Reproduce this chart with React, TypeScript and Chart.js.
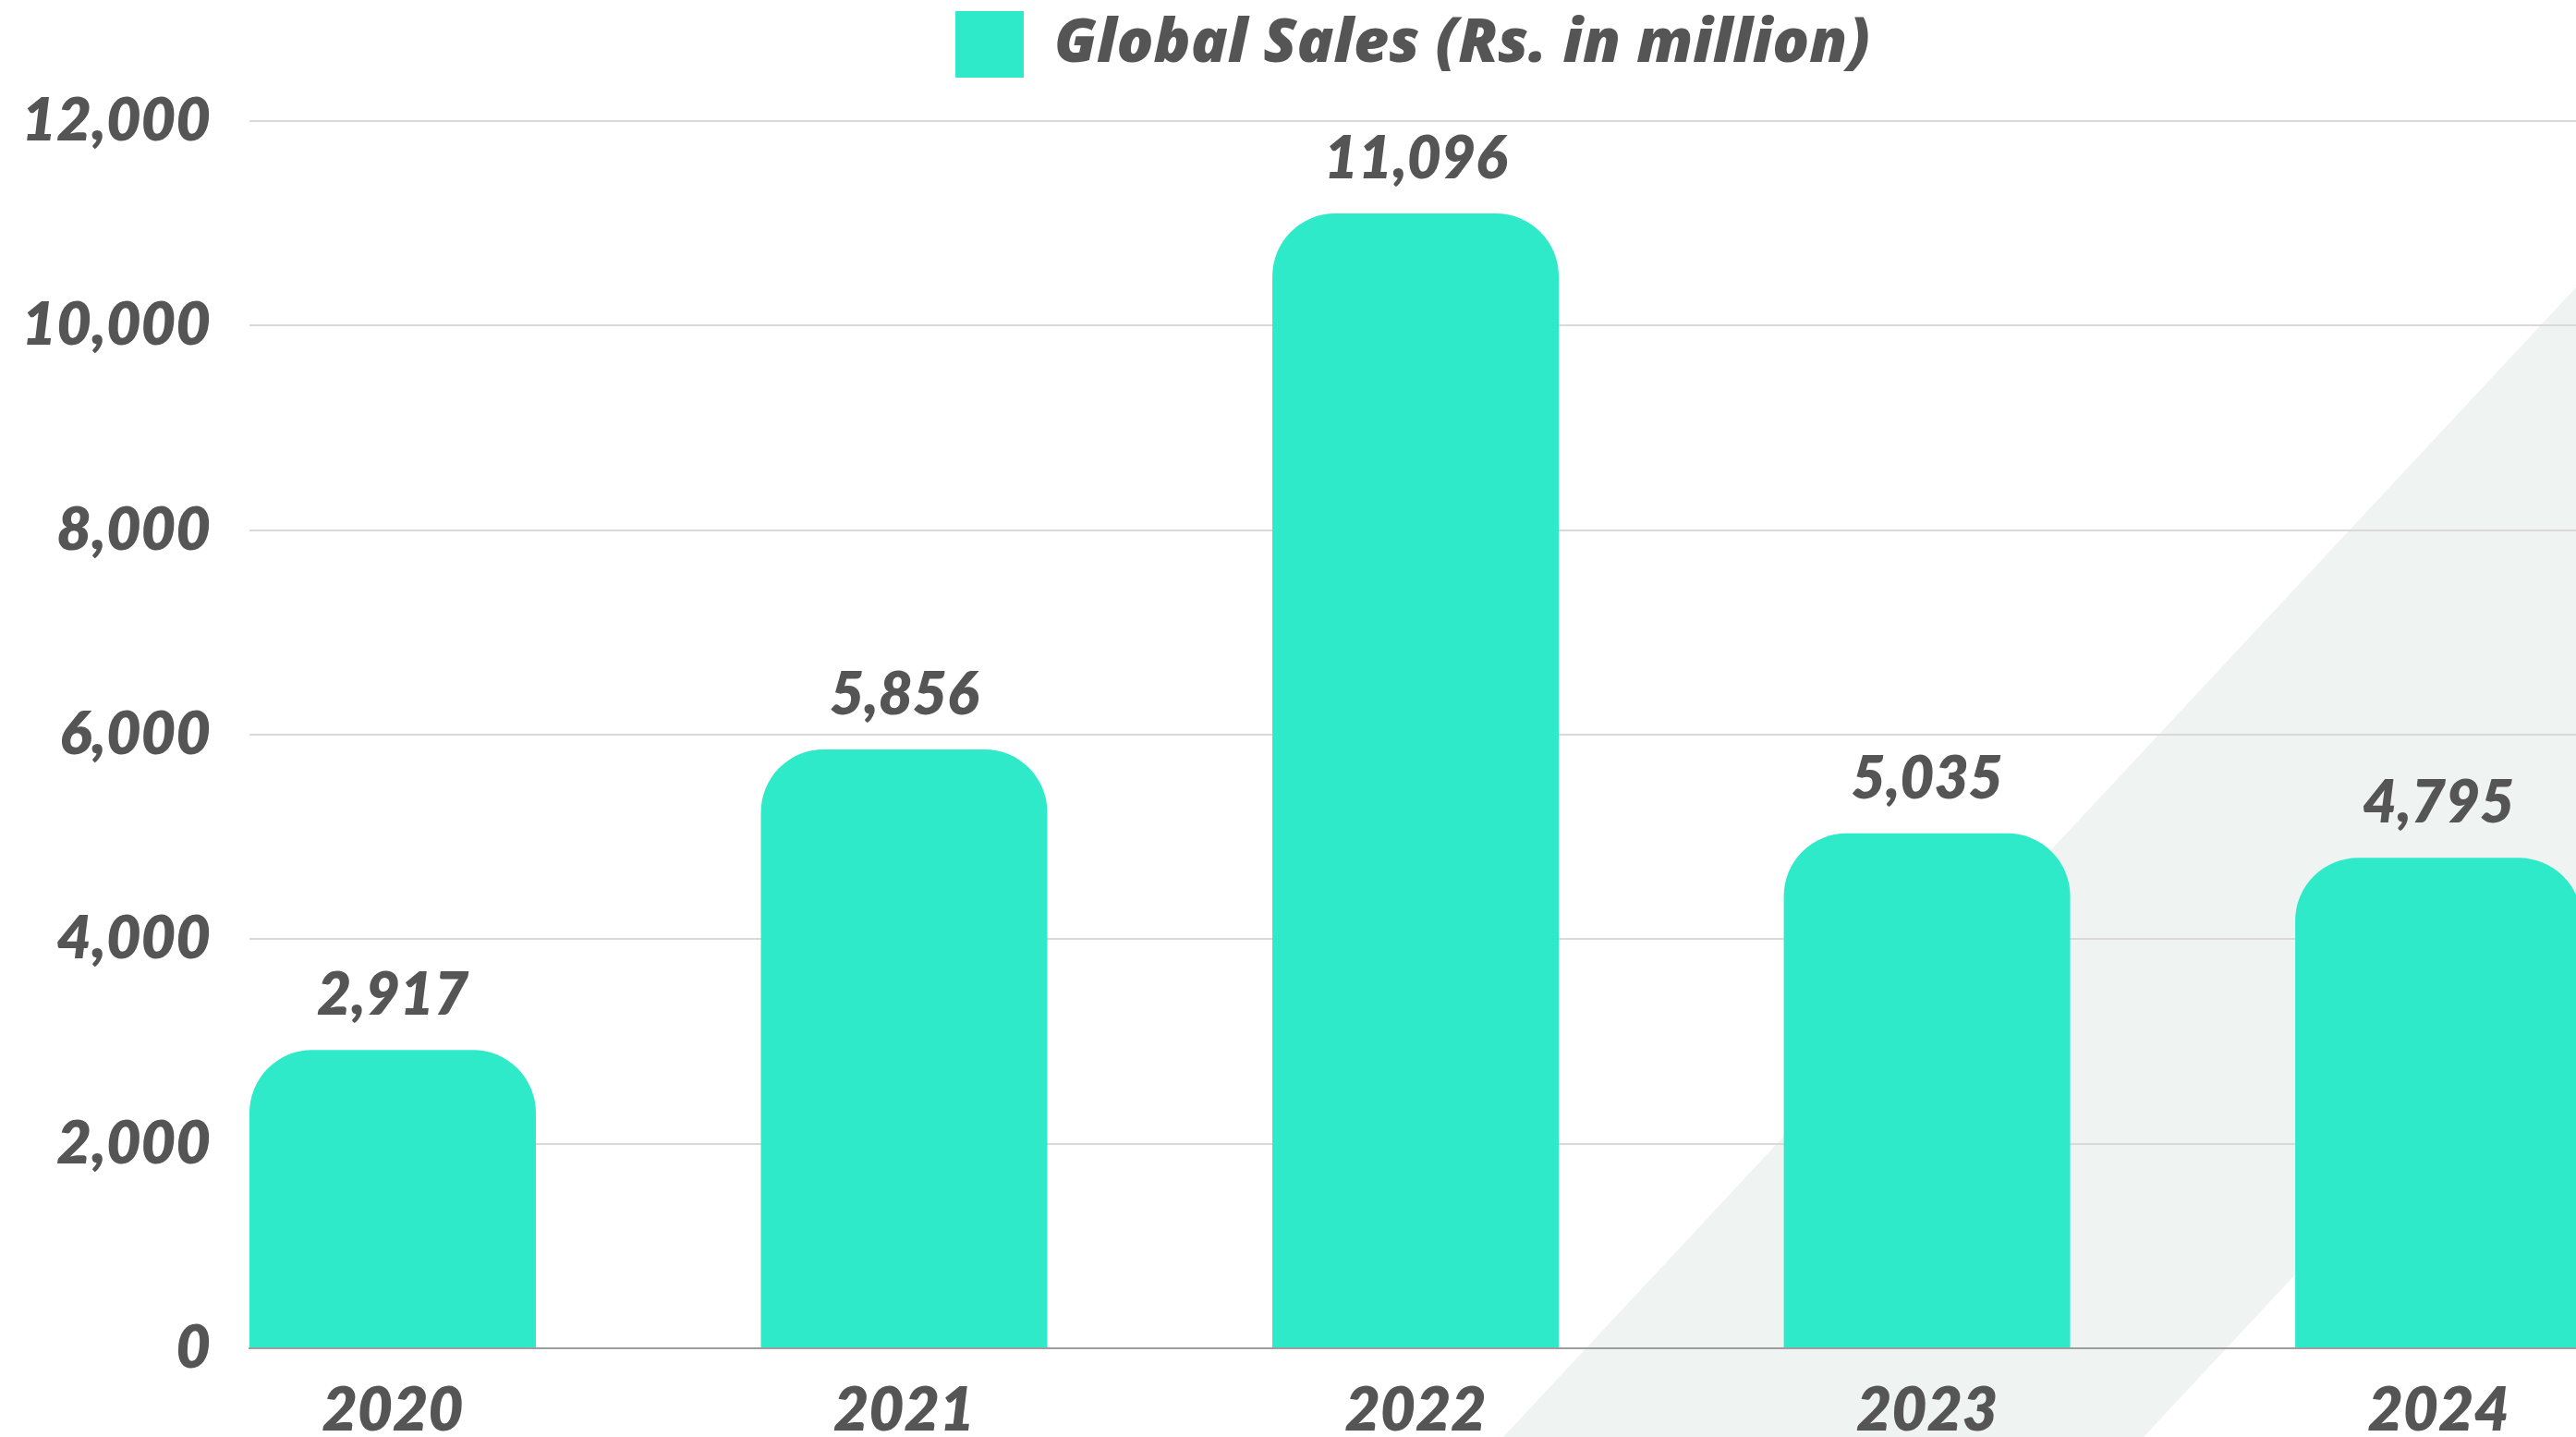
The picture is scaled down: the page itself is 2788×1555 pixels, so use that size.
import React, { useEffect, useRef } from "react";
import { Chart, registerables } from "chart.js";

Chart.register(...registerables);

// ---- data ----
const categories = ["2020", "2021", "2022", "2023", "2024"];
const salesValues = [2917, 5856, 11096, 5035, 4795];
const seriesLabel = "Global Sales (Rs. in million)";
const yTickValues = [0, 2000, 4000, 6000, 8000, 10000, 12000];

// ---- style ----
const FONT_FAMILY = "Lato, 'Open Sans', sans-serif";
const LEGEND_FONT = "'Open Sans', Lato, sans-serif";
const TEXT_COLOR = "#555555";
const BAR_COLOR = "#2eeac9";
const GRID_COLOR = "#d9d9d9";
const AXIS_COLOR = "#9e9e9e";
const BAND_COLOR = "#eff3f2";
const W = 2788;
const H = 1555;

const fmt = (v: number) => v.toLocaleString("en-US");

export default function App() {
  const canvasRef = useRef<HTMLCanvasElement | null>(null);

  useEffect(() => {
    const canvas = canvasRef.current;
    if (!canvas) return;

    const valueLabels = {
      id: "valueLabels",
      afterDatasetsDraw(chart: any) {
        const ctx = chart.ctx;
        const meta = chart.getDatasetMeta(0);
        ctx.save();
        ctx.font = `italic 800 64px ${FONT_FAMILY}`;
        ctx.fillStyle = TEXT_COLOR;
        ctx.textAlign = "center";
        ctx.textBaseline = "alphabetic";
        meta.data.forEach((el: any, i: number) => {
          ctx.fillText(fmt(salesValues[i]), el.x, el.y - 38);
        });
        ctx.restore();
      },
    };

    // keep legend block height fixed so the plot starts at the 12,000 line position
    const legendHeight = {
      id: "legendHeight",
      afterInit(chart: any) {
        const lg = chart.legend;
        if (!lg) return;
        const origFit = lg.fit.bind(lg);
        lg.fit = function () {
          origFit();
          this.height = 131;
        };
      },
    };

    const chart = new Chart(canvas, {
      type: "bar",
      data: {
        datasets: [
          {
            label: seriesLabel,
            data: salesValues.map((v, i) => ({ x: i, y: v })),
            backgroundColor: BAR_COLOR,
            borderWidth: 0,
            borderRadius: 68,
            borderSkipped: "start",
            categoryPercentage: 1,
            barPercentage: 0.56,
          },
        ],
      },
      options: {
        animation: false,
        responsive: true,
        maintainAspectRatio: false,
        layout: { padding: 0 },
        plugins: {
          tooltip: { enabled: false },
          legend: {
            display: true,
            position: "top",
            fullSize: false,
            labels: {
              boxWidth: 74,
              boxHeight: 72,
              padding: 12,
              color: TEXT_COLOR,
              font: { family: LEGEND_FONT, size: 66, weight: "800", style: "italic" },
            },
          },
        },
        scales: {
          x: {
            type: "linear",
            offset: false,
            min: -0.28,
            max: 4.269,
            afterBuildTicks: (s: any) => {
              s.ticks = categories.map((_, i) => ({ value: i }));
            },
            afterFit: (s: any) => {
              s.height = 96;
            },
            ticks: {
              autoSkip: false,
              maxRotation: 0,
              padding: 28,
              color: TEXT_COLOR,
              font: { family: FONT_FAMILY, size: 66, weight: "800", style: "italic" },
              callback: (v: any) => categories[v as number] ?? "",
            },
            grid: { display: false, drawTicks: false, offset: false },
            border: { display: true, color: AXIS_COLOR, width: 2 },
          },
          y: {
            min: 0,
            max: 12000,
            afterBuildTicks: (s: any) => {
              s.ticks = yTickValues.map((v) => ({ value: v }));
            },
            afterFit: (s: any) => {
              s.width = 270;
            },
            ticks: {
              padding: 42,
              color: TEXT_COLOR,
              font: { family: FONT_FAMILY, size: 65, weight: "800", style: "italic" },
              callback: (v: any) => fmt(v as number),
            },
            grid: {
              drawTicks: false,
              lineWidth: 2,
              color: (c: any) => (c.tick && c.tick.value === 0 ? "rgba(0,0,0,0)" : GRID_COLOR),
            },
            border: { display: false },
          },
        },
      },
      plugins: [valueLabels, legendHeight],
    } as any);

    return () => chart.destroy();
  }, []);

  return (
    <div
      style={{
        position: "fixed",
        left: 0,
        top: 0,
        width: W,
        height: H,
        overflow: "hidden",
        background: "#ffffff",
      }}
    >
      <div
        style={{
          position: "absolute",
          left: 0,
          top: 0,
          width: W,
          height: H,
          background: BAND_COLOR,
          clipPath: "polygon(1627px 1555px, 2788px 311px, 2788px 1054px, 2320px 1555px)",
        }}
      />
      <div style={{ position: "absolute", left: 0, top: 0, width: W, height: H }}>
        <canvas ref={canvasRef} />
      </div>
    </div>
  );
}
